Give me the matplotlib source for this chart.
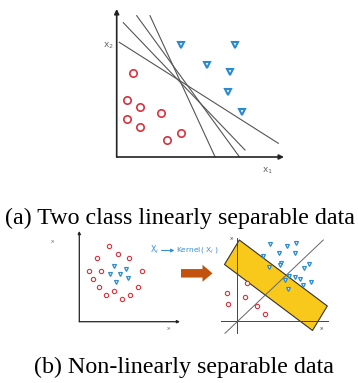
import numpy as np
import matplotlib.pyplot as plt
from matplotlib.patches import Polygon, FancyArrow

# panel (a): two linearly separable classes (pixel coordinates of the picture)
a_red_x = [133.3, 126.7, 140.0, 126.7, 140.0, 160.7, 167.3, 180.7]
a_red_y = [72.7, 100.0, 106.7, 119.3, 126.7, 113.3, 140.0, 133.3]
a_blue_x = [180.7, 235.0, 207.3, 230.0, 227.7, 241.7]
a_blue_y = [45.0, 45.0, 65.0, 71.7, 92.0, 112.0]
# candidate separating lines: (x0, y0, x1, y1)
a_lines = [
    (123.3, 22.7, 245.0, 150.0),
    (119.3, 42.3, 278.3, 143.3),
    (136.7, 15.7, 239.3, 156.7),
    (150.0, 15.7, 215.0, 156.7),
]

# panel (b) left: input space
bl_red_x = [109.3, 118.3, 97.3, 129.3, 89.3, 101.3, 142.0, 93.3, 99.3, 137.7, 105.7, 114.3, 130.0, 121.7]
bl_red_y = [246.0, 254.3, 258.3, 258.3, 270.7, 270.7, 270.7, 279.0, 287.0, 287.0, 295.0, 291.0, 295.0, 299.0]
bl_blue_x = [114.0, 126.0, 110.0, 120.0, 128.3, 115.7]
bl_blue_y = [266.0, 269.3, 274.3, 274.3, 278.3, 282.3]

# panel (b) right: feature space
br_red_x = [226.7, 245.0, 228.3, 257.3, 265.0, 246.7]
br_red_y = [293.3, 296.7, 304.3, 305.7, 314.3, 283.3]
br_blue_x = [270.0, 286.7, 295.7, 279.0, 295.0, 262.7, 281.0, 280.0, 309.3, 304.3,
             269.0, 289.3, 295.0, 300.0, 285.0, 310.7, 302.7, 288.3]
br_blue_y = [244.3, 245.7, 243.3, 252.7, 252.7, 255.7, 263.3, 265.0, 264.3, 268.3,
             266.7, 275.7, 276.7, 279.3, 280.0, 282.3, 285.0, 289.0]
band_x = [239.3, 327.3, 312.5, 224.5]
band_y = [240.0, 306.0, 330.5, 264.5]

RED = "#d8323c"
BLUE = "#2a8ad0"
AXIS = "#222222"

fig = plt.figure(figsize=(3.58, 3.83), dpi=100)
ax = fig.add_axes([0, 0, 1, 1])
ax.set_xlim(0, 358)
ax.set_ylim(383, 0)
ax.axis("off")


def axis_arrow(x0, y0, x1, y1, lw=1.2, ms=7):
    ax.annotate("", xy=(x1, y1), xytext=(x0, y0),
                arrowprops=dict(arrowstyle="-|>", lw=lw, color=AXIS,
                                mutation_scale=ms, shrinkA=0, shrinkB=0))


# ---- panel (a)
axis_arrow(116.7, 157, 116.7, 9)
axis_arrow(116.7, 157, 284, 157)
for x0, y0, x1, y1 in a_lines:
    ax.plot([x0, x1], [y0, y1], color="#555555", lw=0.8)
ax.plot(a_red_x, a_red_y, "o", ms=5.3, mfc="white", mec=RED, mew=1.2, ls="none")
ax.plot(a_blue_x, a_blue_y, "v", ms=4.6, mfc="white", mec=BLUE, mew=1.5, ls="none")
ax.text(108, 46, "x$_2$", fontsize=6.5, color="#666666", ha="center", va="center")
ax.text(267, 171, "x$_1$", fontsize=6.5, color="#666666", ha="center", va="center")
ax.text(180, 218, "(a) Two class linearly separable data", family="Liberation Serif",
        fontsize=17.3, ha="center", va="center")

# ---- panel (b) left
axis_arrow(79.3, 321.7, 79.3, 231, lw=0.9, ms=4)
axis_arrow(79.3, 321.7, 180, 321.7, lw=0.9, ms=4)
ax.plot(bl_red_x, bl_red_y, "o", ms=3.1, mfc="white", mec=RED, mew=0.8, ls="none")
ax.plot(bl_blue_x, bl_blue_y, "v", ms=2.8, mfc="white", mec=BLUE, mew=0.9, ls="none")
ax.text(53, 242, "x$_t$", fontsize=3.5, color="#777777", ha="center", va="center")
ax.text(169, 329, "x$_t$", fontsize=3.5, color="#777777", ha="center", va="center")

# kernel mapping label
ax.text(150, 250, "X$_i$", fontsize=5.8, color="#3a8fd8", ha="left", va="center")
ax.annotate("", xy=(174.5, 250.5), xytext=(161.5, 250.5),
            arrowprops=dict(arrowstyle="-|>", lw=0.8, color="#3a8fd8",
                            mutation_scale=5, shrinkA=0, shrinkB=0))
ax.text(176.5, 250, "Kernel( X$_i$ )", fontsize=5.4, color="#3a8fd8", ha="left", va="center")
ax.add_patch(FancyArrow(181, 273.3, 31.5, 0, width=8.5, head_width=17, head_length=10,
                        length_includes_head=True, color="#c4520f", lw=0))

# ---- panel (b) right
ax.plot([237.3, 237.3], [238, 333], color="#444444", lw=0.7)
ax.plot([220.7, 328.3], [321, 321], color="#444444", lw=0.7)
ax.plot([225, 323.3], [333.3, 240], color="#666666", lw=0.7)
ax.plot(br_red_x, br_red_y, "o", ms=3.1, mfc="white", mec=RED, mew=0.8, ls="none")
ax.add_patch(Polygon(np.column_stack([band_x, band_y]), closed=True,
                     fc="#f8c81a", ec="#333333", lw=0.8, joinstyle="round"))
ax.plot(br_blue_x, br_blue_y, "v", ms=2.8, mfc="white", mec=BLUE, mew=0.9, ls="none")
ax.text(232, 239, "x$_t$", fontsize=3.5, color="#555555", ha="center", va="center")
ax.text(322, 329, "x$_t$", fontsize=3.5, color="#555555", ha="center", va="center")

ax.text(184, 367, "(b) Non-linearly separable data", family="Liberation Serif",
        fontsize=17.3, ha="center", va="center")

fig.savefig("out.png", dpi=100)
